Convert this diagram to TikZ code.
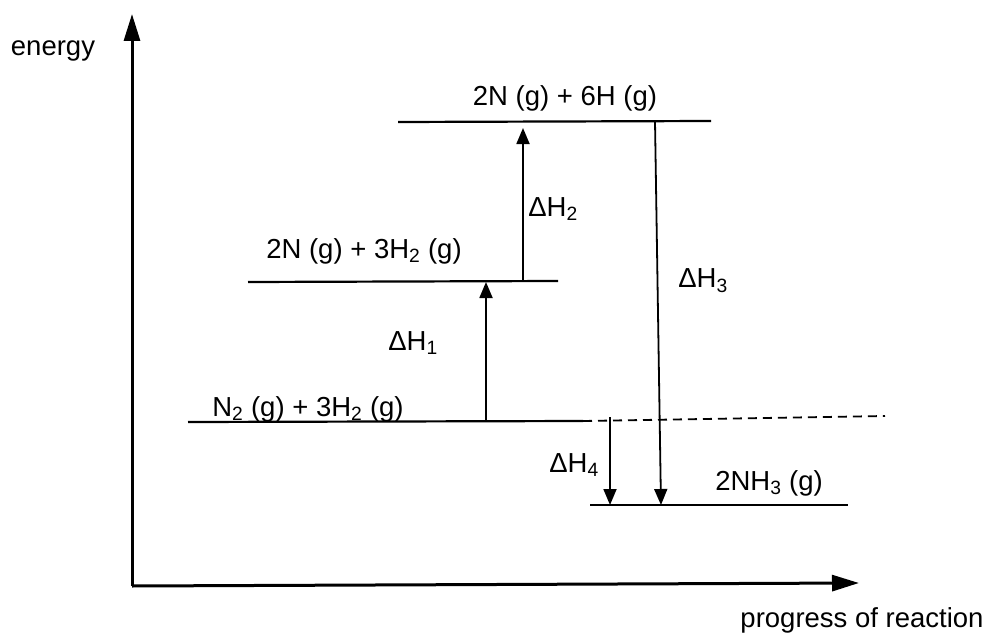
\documentclass[tikz,border=0pt]{standalone}
\usepackage{fontspec}
\setmainfont{Liberation Sans}
\usetikzlibrary{arrows.meta}
\begin{document}
\begin{tikzpicture}[x=1pt,y=-1pt,
  every node/.style={font=\fontsize{27.5}{30}\selectfont, inner sep=0pt},
  axis/.style={line width=3pt, -{Triangle[width=16pt,length=27pt]}},
  level/.style={line width=2.2pt},
  dlevel/.style={line width=1.8pt, dash pattern=on 9pt off 6pt},
  change/.style={line width=1.8pt, -{Triangle[width=13pt,length=16pt]}}]
\useasboundingbox (0,0) rectangle (986,634);
% axes
\coordinate (O) at (132,586);
\coordinate (Ytop) at (132,14);
\coordinate (Xend) at (859,583);
\draw[axis] (O) -- (Ytop);
\draw[axis] (O) -- (Xend);
\node (ylab) at (53,51) {energy};
\node (xlab) at (862,620) {progress of reaction};
% levels
\coordinate (L1a) at (188,422); \coordinate (L1b) at (583,421);
\coordinate (L1c) at (885,416);
\coordinate (L2a) at (248,282); \coordinate (L2b) at (558,281);
\coordinate (L3a) at (398,122); \coordinate (L3b) at (711,121);
\coordinate (L4a) at (590,505); \coordinate (L4b) at (848,505);
\draw[level] (L1a) -- (L1b);
\draw[dlevel] (L1b) -- (L1c);
\draw[level] (L2a) -- (L2b);
\draw[level] (L3a) -- (L3b);
\draw[level] (L4a) -- (L4b);
\node (n1) at (308,409) {N\textsubscript{2} (g) + 3H\textsubscript{2} (g)};
\node (n2) at (364,251) {2N (g) + 3H\textsubscript{2} (g)};
\node (n3) at (565,98) {2N (g) + 6H (g)};
\node (n4) at (769,483) {2NH\textsubscript{3} (g)};
% changes
\coordinate (a1s) at (486,421); \coordinate (a1e) at (486,282);
\coordinate (a2s) at (523,281); \coordinate (a2e) at (523,128);
\coordinate (a3s) at (655,121); \coordinate (a3e) at (661,505);
\coordinate (a4s) at (610,417); \coordinate (a4e) at (610,505);
\draw[change] (a1s) -- (a1e);
\draw[change] (a2s) -- (a2e);
\draw[change] (a3s) -- (a3e);
\draw[change] (a4s) -- (a4e);
\node (d1) at (413,343) {ΔH\textsubscript{1}};
\node (d2) at (553,209) {ΔH\textsubscript{2}};
\node (d3) at (703,281) {ΔH\textsubscript{3}};
\node (d4) at (574,465) {ΔH\textsubscript{4}};
\end{tikzpicture}
\end{document}
